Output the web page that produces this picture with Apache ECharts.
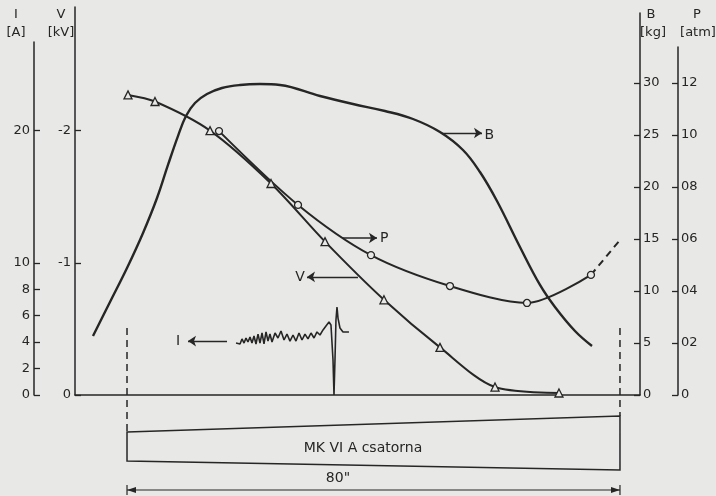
<!DOCTYPE html>
<html>
<head>
<meta charset="utf-8">
<script src="https://cdn.jsdelivr.net/npm/echarts@6/dist/echarts.min.js"></script>
<style>
html,body{margin:0;padding:0;background:#e8e8e6;}
#c{width:716px;height:496px;}
</style>
</head>
<body>
<div id="c"></div>
<script>
// Position along the channel, inches (0 = channel entry, 80 = channel end)
const bX = [-5.52,-2.76,0.00,2.60,4.87,6.65,8.27,9.57,11.03,12.98,15.41,18.34,21.58,24.83,31.32,36.67,41.86,46.41,50.79,54.52,57.28,60.04,63.77,67.02,69.45,72.70,75.46];
const bVal = [5.67,8.94,12.21,15.58,18.94,22.12,24.90,26.83,28.08,28.94,29.52,29.81,29.90,29.81,28.75,27.98,27.31,26.54,25.29,23.56,21.44,18.65,14.23,10.58,8.46,6.15,4.71];

const vX = [0.16,4.54,13.47,23.37,32.13,41.70,50.79,59.72,70.10];
const vVal = [-2.27,-2.22,-2.00,-1.60,-1.16,-0.72,-0.36,-0.06,-0.015];

const pX = [14.93,27.75,39.59,52.41,64.91,75.29];
const pVal = [1.015,0.731,0.538,0.419,0.354,0.462];
const pDashX = [75.29,80.0];
const pDashVal = [0.462,0.596];

const iX = [17.69,18.01,18.34,18.66,18.99,19.31,19.63,19.96,20.28,20.61,20.93,21.26,21.58,21.91,22.23,22.56,22.88,23.20,23.53,24.02,24.50,24.99,25.48,25.96,26.45,26.94,27.42,27.91,28.40,28.88,29.37,29.86,30.35,30.83,31.32,31.81,32.29,32.78,33.10,33.43,33.59,33.75,33.91,34.08,34.24,34.56,35.05,36.02];
const iVal = [3.93,4.08,3.86,4.24,3.93,4.31,4.01,4.39,3.93,4.46,3.86,4.61,3.93,4.69,3.86,4.77,4.08,4.61,4.01,4.69,4.31,4.84,4.16,4.61,4.08,4.54,4.08,4.69,4.16,4.61,4.24,4.69,4.31,4.77,4.54,4.92,5.22,5.52,5.30,2.65,0,2.65,5.67,6.66,5.82,5.07,4.77,4.77];

const iTicks = [0,2,4,6,8,10,20];
const vTicks = [0,-1,-2];
const bTicks = [0,5,10,15,20,25,30];
const pTicks = [0,0.2,0.4,0.6,0.8,1.0,1.2];
const pTickLabels = ['0','02','04','06','08','10','12'];

const INK = '#262626';
const BG = '#e8e8e6';
const FONT = 'DejaVu Sans';

function pairs(xs, ys){ return xs.map((x,k)=>[x, ys[k]]); }

const chart = echarts.init(document.getElementById('c'), null, {renderer:'canvas'});

const tickStyle = {show:true, inside:true, length:6, lineStyle:{color:INK, width:1.3}};
const lineStyleAx = {show:true, onZero:false, lineStyle:{color:INK, width:1.5}};
const lblStyle = {color:INK, fontFamily:FONT, fontSize:13};

function hiddenX(g){ return {type:'value', gridIndex:g, min:-8.44, max:83.25, show:false}; }

const option = {
  animation:false,
  backgroundColor:BG,
  grid:[
    {left:75, right:76, top:7, bottom:101},
    {left:34, width:1, top:42, bottom:101},
    {left:639, width:1, top:13, bottom:101},
    {left:677, width:1, top:47, bottom:101}
  ],
  xAxis:[
    {type:'value', gridIndex:0, min:-8.44, max:83.25, axisLine:lineStyleAx, axisTick:{show:false}, axisLabel:{show:false}, splitLine:{show:false}},
    hiddenX(1), hiddenX(2), hiddenX(3)
  ],
  yAxis:[
    {type:'value', gridIndex:0, position:'left', inverse:true, min:-2.935, max:0,
     axisLine:lineStyleAx, axisTick:Object.assign({customValues:vTicks}, tickStyle),
     axisLabel:Object.assign({customValues:vTicks, margin:4, formatter:v=>String(v)}, lblStyle),
     splitLine:{show:false}},
    {type:'value', gridIndex:0, min:0, max:29.35, show:false, splitLine:{show:false}},
    {type:'value', gridIndex:0, min:0, max:37.31, show:false, splitLine:{show:false}},
    {type:'value', gridIndex:0, min:0, max:1.4923, show:false, splitLine:{show:false}},
    {type:'value', gridIndex:1, position:'left', min:0, max:26.70,
     axisLine:lineStyleAx, axisTick:Object.assign({customValues:iTicks}, tickStyle),
     axisLabel:Object.assign({customValues:iTicks, margin:4}, lblStyle), splitLine:{show:false}},
    {type:'value', gridIndex:2, position:'right', min:0, max:36.73,
     axisLine:lineStyleAx, axisTick:Object.assign({customValues:bTicks}, tickStyle),
     axisLabel:Object.assign({customValues:bTicks, margin:3}, lblStyle), splitLine:{show:false}},
    {type:'value', gridIndex:3, position:'right', min:0, max:1.3385,
     axisLine:lineStyleAx, axisTick:Object.assign({customValues:pTicks}, tickStyle),
     axisLabel:Object.assign({customValues:pTicks, margin:3, formatter:v=>pTickLabels[Math.round(v/0.2)]}, lblStyle), splitLine:{show:false}}
  ],
  series:[
    {type:'line', name:'B', xAxisIndex:0, yAxisIndex:2, data:pairs(bX,bVal), smooth:0.4, showSymbol:false,
     lineStyle:{color:INK, width:2.4}, z:2,
     markLine:{silent:true, symbol:['none','arrow'], symbolSize:8, label:{show:false}, lineStyle:{color:INK, width:1.3, type:'solid'},
       data:[[{coord:[51.12,25.19]},{coord:[57.61,25.19]}]]},
     markPoint:{silent:true, symbol:'rect', symbolSize:1, itemStyle:{color:'rgba(0,0,0,0)'},
       label:{show:true, position:'inside', formatter:'B', color:INK, fontFamily:FONT, fontSize:14},
       data:[{coord:[58.80,25.0]}]}},
    {type:'line', name:'V', xAxisIndex:0, yAxisIndex:0, data:pairs(vX,vVal), smooth:0.3,
     symbol:'triangle', symbolSize:8, showAllSymbol:true,
     itemStyle:{color:BG, borderColor:INK, borderWidth:1.3},
     lineStyle:{color:INK, width:2}, z:3,
     markLine:{silent:true, symbol:['none','arrow'], symbolSize:8, label:{show:false}, lineStyle:{color:INK, width:1.3, type:'solid'},
       data:[[{coord:[37.48,-0.893]},{coord:[29.21,-0.893]}]]},
     markPoint:{silent:true, symbol:'rect', symbolSize:1, itemStyle:{color:'rgba(0,0,0,0)'},
       label:{show:true, position:'inside', formatter:'V', color:INK, fontFamily:FONT, fontSize:14},
       data:[{coord:[28.10,-0.893]}]}},
    {type:'line', name:'P', xAxisIndex:0, yAxisIndex:3, data:pairs(pX,pVal), smooth:0.3,
     symbol:'circle', symbolSize:7, showAllSymbol:true,
     itemStyle:{color:BG, borderColor:INK, borderWidth:1.3},
     lineStyle:{color:INK, width:2}, z:3,
     markLine:{silent:true, symbol:['none','arrow'], symbolSize:8, label:{show:false}, lineStyle:{color:INK, width:1.6, type:'solid'},
       data:[[{coord:[34.89,0.604]},{coord:[40.57,0.604]}]]},
     markPoint:{silent:true, symbol:'rect', symbolSize:1, itemStyle:{color:'rgba(0,0,0,0)'},
       label:{show:true, position:'inside', formatter:'P', color:INK, fontFamily:FONT, fontSize:14},
       data:[{coord:[41.75,0.604]}]}},
    {type:'line', name:'Pdash', xAxisIndex:0, yAxisIndex:3, data:pairs(pDashX,pDashVal), showSymbol:false,
     lineStyle:{color:INK, width:2, type:[7,5]}, z:2},
    {type:'line', name:'I', xAxisIndex:0, yAxisIndex:1, data:pairs(iX,iVal), showSymbol:false, smooth:false,
     lineStyle:{color:INK, width:1.6}, z:2,
     markLine:{silent:true, symbol:['none','arrow'], symbolSize:8, label:{show:false}, lineStyle:{color:INK, width:1.3, type:'solid'},
       data:[[{coord:[16.23,4.08]},{coord:[9.90,4.08]}]]},
     markPoint:{silent:true, symbol:'rect', symbolSize:1, itemStyle:{color:'rgba(0,0,0,0)'},
       label:{show:true, position:'inside', formatter:'I', color:INK, fontFamily:FONT, fontSize:14},
       data:[{coord:[8.30,4.08]}]}}
  ]
};
chart.setOption(option);

const x0 = chart.convertToPixel({xAxisIndex:0}, 0);
const x80 = chart.convertToPixel({xAxisIndex:0}, 80);
const txt = (x,y,s,size,align)=>({type:'text', x:x, y:y, style:{text:s, fill:INK, font:(size||13)+'px "'+FONT+'"', textAlign:align||'center', textVerticalAlign:'middle'}});
const strokeStyle = {stroke:INK, lineWidth:1.5, fill:null};

chart.setOption({graphic:[
  txt(16,15,'I'), txt(16,33,'[A]'),
  txt(61,15,'V'), txt(61,33,'[kV]'),
  txt(651,15,'B'), txt(653,33,'[kg]'),
  txt(697,15,'P'), txt(698,33,'[atm]'),
  {type:'line', shape:{x1:x0,y1:328,x2:x0,y2:432}, style:{stroke:INK, lineWidth:1.5, lineDash:[7,5]}},
  {type:'line', shape:{x1:x80,y1:328,x2:x80,y2:416}, style:{stroke:INK, lineWidth:1.5, lineDash:[7,5]}},
  {type:'polygon', shape:{points:[[x0,432],[x80,416],[x80,470],[x0,461]]}, style:strokeStyle},
  txt(363,448,'MK VI A csatorna',14),
  {type:'line', shape:{x1:x0,y1:490,x2:x80,y2:490}, style:{stroke:INK, lineWidth:1.2}},
  {type:'line', shape:{x1:x0,y1:485,x2:x0,y2:495}, style:{stroke:INK, lineWidth:1.2}},
  {type:'line', shape:{x1:x80,y1:485,x2:x80,y2:495}, style:{stroke:INK, lineWidth:1.2}},
  {type:'polygon', shape:{points:[[x0,490],[x0+9,487],[x0+9,493]]}, style:{fill:INK}},
  {type:'polygon', shape:{points:[[x80,490],[x80-9,487],[x80-9,493]]}, style:{fill:INK}},
  txt(338,478,'80"',14)
]});
</script>
</body>
</html>
